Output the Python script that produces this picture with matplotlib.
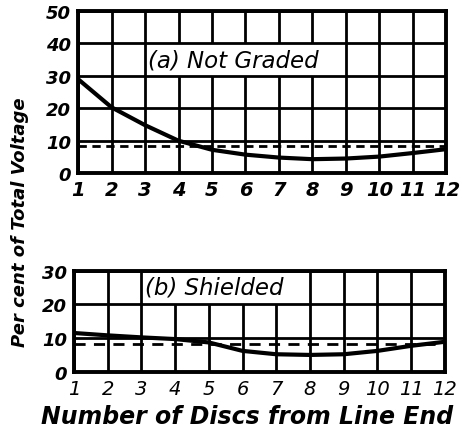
import matplotlib
matplotlib.use("Agg")
import matplotlib.pyplot as plt
from matplotlib.patches import Rectangle

discs = [1, 2, 3, 4, 5, 6, 7, 8, 9, 10, 11, 12]
not_graded = [29.0, 20.3, 14.8, 10.0, 7.2, 5.7, 4.8, 4.3, 4.5, 5.1, 6.2, 7.4]
shielded = [11.5, 10.8, 10.2, 9.7, 8.7, 6.2, 5.2, 5.0, 5.2, 6.2, 7.7, 8.9]
uniform = 100 / 12
top_yticks = [0, 10, 20, 30, 40, 50]
bot_yticks = [0, 10, 20, 30]

FAM = "DejaVu Sans"

fig = plt.figure(figsize=(4.62, 4.31), dpi=100)
ax1 = fig.add_axes([0.169, 0.596, 0.797, 0.376])
ax2 = fig.add_axes([0.160, 0.135, 0.803, 0.235])

def style(ax, yticks, bold_ticks, xsize):
    ax.set_xlim(discs[0], discs[-1])
    ax.set_ylim(yticks[0], yticks[-1])
    ax.set_xticks(discs)
    ax.set_yticks(yticks)
    ax.xaxis.grid(True, color="black", lw=2.0)
    ax.set_axisbelow(True)
    ax.hlines(yticks, discs[0], discs[-1], color="black", lw=2.0, zorder=2.7)
    for s in ax.spines.values():
        s.set_linewidth(2.8)
        s.set_zorder(6)
    ax.tick_params(length=0, pad=5)
    for lab in ax.get_yticklabels():
        lab.set_fontfamily(FAM); lab.set_fontweight("bold"); lab.set_fontstyle("italic"); lab.set_fontsize(13)
    for lab in ax.get_xticklabels():
        lab.set_fontfamily(FAM); lab.set_fontstyle("italic"); lab.set_fontsize(xsize)
        lab.set_fontweight("bold" if bold_ticks else "normal")

style(ax1, top_yticks, True, 14)
style(ax2, bot_yticks, False, 14)

# white label boxes hiding inner vertical grid lines
ax1.add_patch(Rectangle((3.06, 30), 5.88, 10, facecolor="white", edgecolor="none", zorder=2.5))
ax2.add_patch(Rectangle((3.06, 20), 4.88, 10, facecolor="white", edgecolor="none", zorder=2.5))

ax1.plot(discs, not_graded, color="black", lw=3, zorder=3)
ax1.axhline(uniform, color="black", lw=2, ls=(0, (3, 2)), zorder=3)
ax1.text(3.1, 35, "(a) Not Graded", fontsize=16.5, fontstyle="italic", family=FAM,
         va="center", zorder=4)

ax2.plot(discs, shielded, color="black", lw=3, zorder=3)
ax2.axhline(uniform, color="black", lw=2, ls=(0, (4, 3)), zorder=3)
ax2.text(3.1, 25, "(b) Shielded", fontsize=16.5, fontstyle="italic", family=FAM,
         va="center", zorder=4)

fig.text(0.043, 0.485, "Per cent of Total Voltage", rotation=90, fontsize=13,
         fontweight="bold", fontstyle="italic", family=FAM, ha="center", va="center")
fig.text(0.535, 0.033, "Number of Discs from Line End", fontsize=17,
         fontweight="bold", fontstyle="italic", family=FAM, ha="center", va="center")

fig.savefig("out.png", dpi=100)
